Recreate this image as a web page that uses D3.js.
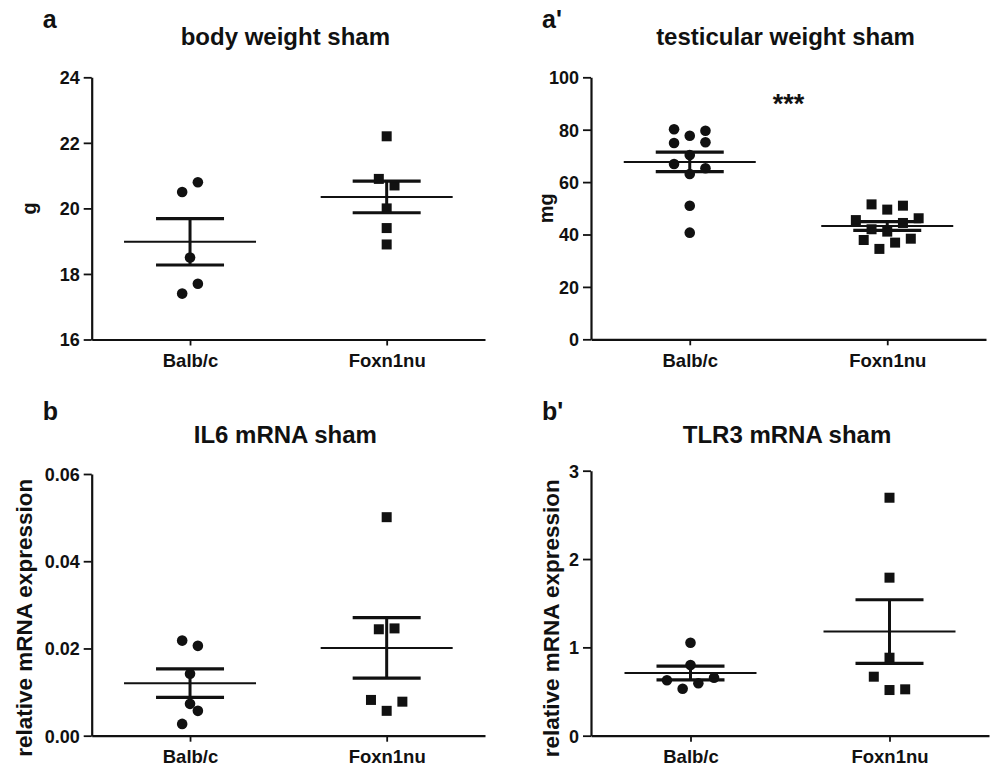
<!DOCTYPE html>
<html>
<head>
<meta charset="utf-8">
<script src="https://cdn.jsdelivr.net/npm/d3@7"></script>
<style>
  html, body { margin: 0; padding: 0; background: #fff; }
  svg text { font-family: "Liberation Sans", Arial, sans-serif; font-weight: bold; fill: #111; }
</style>
</head>
<body>
<div id="chart"></div>
<script>
// groups on the x axis
const groups = ["Balb/c", "Foxn1nu"];

// values (order within a row decides left/right)
const bodyBalb = [17.4, 17.7, 18.5, 20.5, 20.8];
const bodyFoxn = [22.2, 20.9, 20.7, 20.0, 19.4, 18.9];
const testisBalb = [77.7, 80.2, 79.6, 70.3, 74.9, 75.2, 63.1, 66.9, 65.3, 51.0, 40.7];
const testisFoxn = [34.5, 36.9, 37.9, 38.4, 41.1, 42.0, 44.4, 45.5, 46.2, 49.5, 51.5, 51.0];
const il6Balb = [0.0027, 0.0057, 0.0073, 0.0142, 0.0218, 0.0206];
const il6Foxn = [0.0057, 0.0082, 0.0078, 0.0244, 0.0246, 0.0501];
const tlr3Balb = [0.532, 0.593, 0.627, 0.657, 0.800, 1.053];
const tlr3Foxn = [0.517, 0.668, 0.525, 0.883, 1.789, 2.694];

// tick labels
const bodyTicks = [16, 18, 20, 22, 24];
const testisTicks = [0, 20, 40, 60, 80, 100];
const il6Ticks = [0, 0.02, 0.04, 0.06];
const tlr3Ticks = [0, 1, 2, 3];

const width = 990;
const height = 766;
const SLOT_W = 15.7;   // horizontal spacing of points side by side
const ROW_GAP = 15;    // points closer than this (px) share a row
const INK = "#111";

const svg = d3.select("#chart")
    .append("svg")
    .attr("width", width)
    .attr("height", height);

const panels = [
    { letter: "a", title: "body weight sham", ylabel: "g", ticks: bodyTicks, fmt: d3.format("d"),
      data: [bodyBalb, bodyFoxn], x0: 91.7, x1: 485, yTop: 77.3, yBot: 339.5, labelX: 36, labelShift: 0, stars: false },
    { letter: "a'", title: "testicular weight sham", ylabel: "mg", ticks: testisTicks, fmt: d3.format("d"),
      data: [testisBalb, testisFoxn], x0: 591, x1: 986, yTop: 77.3, yBot: 339.3, labelX: 553, labelShift: 0, stars: true },
    { letter: "b", title: "IL6 mRNA sham", ylabel: "relative mRNA expression", ticks: il6Ticks, fmt: d3.format(".2f"),
      data: [il6Balb, il6Foxn], x0: 91.7, x1: 485, yTop: 474, yBot: 735.7, labelX: 32, labelShift: 13, stars: false },
    { letter: "b'", title: "TLR3 mRNA sham", ylabel: "relative mRNA expression", ticks: tlr3Ticks, fmt: d3.format("d"),
      data: [tlr3Balb, tlr3Foxn], x0: 591, x1: 989, yTop: 470.7, yBot: 735.7, labelX: 559, labelShift: 15, stars: false }
];

// slot offsets for a row of k points: odd rows start in the middle
function slotOrder(k) {
    const out = [];
    if (k % 2) {
        out.push(0);
        for (let s = 1; out.length < k; s++) {
            out.push(-s);
            if (out.length < k) out.push(s);
        }
    } else {
        for (let s = 0.5; out.length < k; s++) {
            out.push(-s);
            out.push(s);
        }
    }
    return out;
}

// simple column scatter layout, rows built from the lowest value upwards
function swarm(values, y, cx) {
    const order = d3.range(values.length).sort((a, b) => values[a] - values[b]);
    const rows = [];
    let cur = null;
    order.forEach(i => {
        if (cur && Math.abs(y(values[i]) - y(values[cur[0]])) <= ROW_GAP) cur.push(i);
        else { cur = [i]; rows.push(cur); }
    });
    const xs = new Array(values.length);
    rows.forEach(row => {
        row.sort((a, b) => a - b);
        const offs = slotOrder(row.length);
        row.forEach((i, j) => { xs[i] = cx + offs[j] * SLOT_W; });
    });
    return xs;
}

panels.forEach((p, pi) => {
    const g = svg.append("g");
    const top = pi < 2;

    const x = d3.scalePoint()
        .domain(groups)
        .range([p.x0, p.x1])
        .padding(0.5);

    const y = d3.scaleLinear()
        .domain(d3.extent(p.ticks))
        .range([p.yBot, p.yTop]);

    // panel letter and title
    g.append("text")
        .attr("x", p.x0 - 49)
        .attr("y", top ? 28 : 420)
        .attr("font-size", 25)
        .text(p.letter);

    g.append("text")
        .attr("x", (p.x0 + p.x1) / 2 - 3)
        .attr("y", top ? 45 : 443)
        .attr("text-anchor", "middle")
        .attr("font-size", 24)
        .text(p.title);

    // axes
    const yAxis = g.append("g")
        .attr("transform", `translate(${p.x0},0)`)
        .call(d3.axisLeft(y).tickValues(p.ticks).tickFormat(p.fmt).tickSize(8).tickSizeOuter(0).tickPadding(4));

    const xAxis = g.append("g")
        .attr("transform", `translate(0,${p.yBot})`)
        .call(d3.axisBottom(x).tickSize(6).tickSizeOuter(0).tickPadding(6));

    [yAxis, xAxis].forEach(ax => {
        ax.select(".domain").attr("stroke", INK).attr("stroke-width", 2.2);
        ax.selectAll(".tick line").attr("stroke", INK).attr("stroke-width", 1.8);
        ax.selectAll("text")
            .attr("fill", INK)
            .attr("font-family", "'Liberation Sans', Arial, sans-serif")
            .attr("font-weight", "bold");
    });
    yAxis.selectAll("text").attr("font-size", 18).attr("dy", "0.36em");
    xAxis.selectAll("text").attr("font-size", 18.5).attr("dy", "0.85em");

    // y axis title
    g.append("text")
        .attr("transform", `translate(${p.labelX},${(p.yTop + p.yBot) / 2 + p.labelShift}) rotate(-90)`)
        .attr("text-anchor", "middle")
        .attr("font-size", p.ylabel.length > 3 ? 22.5 : 20)
        .text(p.ylabel);

    // points
    groups.forEach((name, gi) => {
        const vals = p.data[gi];
        const cx = x(name);
        const xs = swarm(vals, y, cx);
        const pts = vals.map((v, i) => ({ v, x: xs[i] }));

        if (gi === 0) {
            g.selectAll(null)
                .data(pts)
                .enter()
                .append("circle")
                .attr("cx", d => d.x)
                .attr("cy", d => y(d.v))
                .attr("r", 5.3)
                .attr("fill", INK);
        } else {
            g.selectAll(null)
                .data(pts)
                .enter()
                .append("rect")
                .attr("x", d => d.x - 5)
                .attr("y", d => y(d.v) - 5)
                .attr("width", 10)
                .attr("height", 10)
                .attr("fill", INK);
        }

        // mean and SEM
        const mean = d3.mean(vals);
        const sem = d3.deviation(vals) / Math.sqrt(vals.length);

        g.append("line")
            .attr("x1", cx - 66).attr("x2", cx + 66)
            .attr("y1", y(mean)).attr("y2", y(mean))
            .attr("stroke", INK).attr("stroke-width", 2);

        g.append("line")
            .attr("x1", cx).attr("x2", cx)
            .attr("y1", y(mean + sem)).attr("y2", y(mean - sem))
            .attr("stroke", INK).attr("stroke-width", 3);

        [mean + sem, mean - sem].forEach(v => {
            g.append("line")
                .attr("x1", cx - 34).attr("x2", cx + 34)
                .attr("y1", y(v)).attr("y2", y(v))
                .attr("stroke", INK).attr("stroke-width", 3.2);
        });
    });

    if (p.stars) {
        g.append("text")
            .attr("x", (x(groups[0]) + x(groups[1])) / 2)
            .attr("y", 113)
            .attr("text-anchor", "middle")
            .attr("font-size", 27)
            .text("***");
    }
});
</script>
</body>
</html>
